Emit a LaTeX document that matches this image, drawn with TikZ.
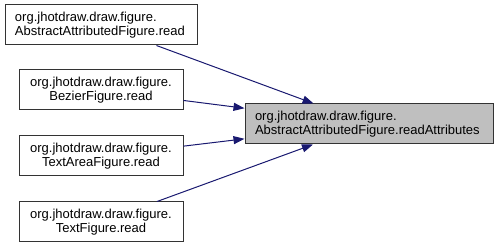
\documentclass[tikz,border=0pt]{standalone}
\usepackage{fontspec}
\setmainfont{Liberation Sans}
\usetikzlibrary{arrows.meta}
\definecolor{edgeblue}{HTML}{191970}
\definecolor{nodegray}{HTML}{BFBFBF}
\begin{document}
\begin{tikzpicture}[x=1pt,y=-1pt,
  box/.style={draw=black!80,line width=1pt,rectangle,inner sep=0pt,
    minimum height=40pt,font=\fontsize{13}{14}\selectfont},
  leftbox/.style={box,align=left,inner xsep=10pt},
  midbox/.style={box,align=center,text width=144pt,minimum width=164pt},
  calls/.style={draw=edgeblue,line width=1pt,
    -{Triangle[length=11pt,width=8pt,fill=edgeblue]}}]
  \useasboundingbox (0,0) rectangle (499,248);
  % callers
  \node[leftbox,text width=172pt] (a) at (101,25)
    {org.jhotdraw.draw.figure.\\AbstractAttributedFigure.read};
  \node[midbox] (b) at (101,90) {org.jhotdraw.draw.figure.\\BezierFigure.read};
  \node[midbox] (c) at (101,156) {org.jhotdraw.draw.figure.\\TextAreaFigure.read};
  \node[midbox] (d) at (101,222) {org.jhotdraw.draw.figure.\\TextFigure.read};
  % callee
  \node[leftbox,fill=nodegray,text width=228pt] (t) at (369,124)
    {org.jhotdraw.draw.figure.\\AbstractAttributedFigure.readAttributes};
  % call edges
  \draw[calls] (a) -- (t);
  \draw[calls] (b) -- (t);
  \draw[calls] (c) -- (t);
  \draw[calls] (d) -- (t);
\end{tikzpicture}
\end{document}
